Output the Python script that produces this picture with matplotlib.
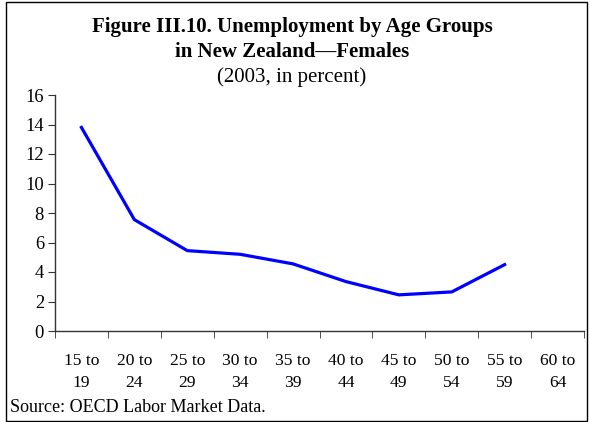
import matplotlib
matplotlib.use("Agg")
import matplotlib.pyplot as plt
from matplotlib.patches import Rectangle
import numpy as np

plt.rcParams['font.family'] = ['Liberation Serif', 'DejaVu Serif']

categories = ["15 to\n19", "20 to\n24", "25 to\n29", "30 to\n34", "35 to\n39",
              "40 to\n44", "45 to\n49", "50 to\n54", "55 to\n59", "60 to\n64"]
values = [13.8, 7.55, 5.45, 5.2, 4.55, 3.35, 2.45, 2.65, 4.5]
yticks = [0, 2, 4, 6, 8, 10, 12, 14, 16]

W, H = 590, 422
fig = plt.figure(figsize=(W/100, H/100), dpi=100)
ax = fig.add_axes([55/W, 1-331/H, (584-55)/W, (331-95)/H])

x = np.arange(len(categories))
ax.plot(x[:len(values)], values, color='#0000FF', lw=2.3, solid_joinstyle='round')
ax.set_xlim(-0.5, len(categories)-0.5)
ax.set_ylim(0, 16)
ax.set_yticks(yticks)
ax.set_yticklabels([str(v) for v in yticks], fontsize=13.3)
ax.set_xticks(x)
ax.set_xticklabels(categories, fontsize=12.6, linespacing=1.5)
ax.set_xticks(np.arange(-0.5, len(categories)), minor=True)
ax.tick_params(axis='x', which='major', length=0, pad=16)
ax.tick_params(axis='x', which='minor', length=5, direction='out', color='#333333')
ax.tick_params(axis='y', length=5, direction='out', color='#333333', pad=3)
for s in ['top', 'right']:
    ax.spines[s].set_visible(False)
for s in ['left', 'bottom']:
    ax.spines[s].set_color('#333333')
    ax.spines[s].set_linewidth(1.0)

fig.text(292/W, 1-27/H, "Figure III.10. Unemployment by Age Groups", ha='center', va='center',
         fontsize=15, fontweight='bold')
fig.text(292/W, 1-52/H, "in New Zealand\u2014Females", ha='center', va='center',
         fontsize=15, fontweight='bold')
fig.text(292/W, 1-77/H, "(2003, in percent)", ha='center', va='center', fontsize=15)
fig.text(10/W, 1-407/H, "Source: OECD Labor Market Data.", ha='left', va='center', fontsize=13)

fig.add_artist(Rectangle((6/W, 1/H), (587-6)/W, (H-3)/H, transform=fig.transFigure,
                         fill=False, edgecolor='black', lw=1.0))

fig.savefig("out.png", dpi=100)
